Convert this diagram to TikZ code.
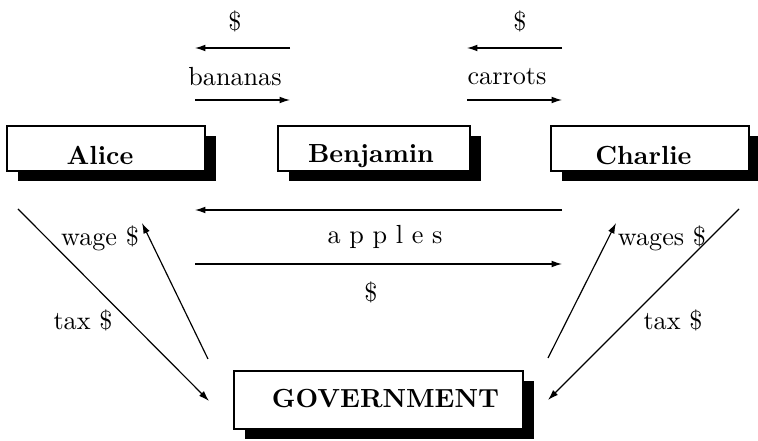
\documentclass[tikz,border=0pt]{standalone}
\usetikzlibrary{arrows.meta,shadows}

% one drawing unit = 0.382pt, y grows downwards
\newcommand{\unitlen}{0.382pt}

\tikzset{
  agent/.style={draw=black, line width=0.45pt, fill=white, inner sep=0pt,
    minimum height={45*\unitlen},
    drop shadow={shadow xshift={10.5*\unitlen}, shadow yshift={-10.5*\unitlen},
      fill=black, opacity=1}},
  name text/.style={font=\bfseries, inner sep=0pt, anchor=base},
  flow/.style={line width=0.45pt, -{Latex[length=4pt,width=2.6pt]}},
  tag/.style={inner sep=0pt}
}

\begin{document}
\begin{tikzpicture}[x=\unitlen, y=-\unitlen]
\useasboundingbox (0,0) rectangle (758,441);

% the four agents
\node[agent, minimum width={198*\unitlen}] (alice)    at (106,148.5) {};
\node[agent, minimum width={192*\unitlen}] (benjamin) at (374,148.5) {};
\node[agent, minimum width={198*\unitlen}] (charlie)  at (650,148.5) {};
\node[agent, minimum width={289*\unitlen}, minimum height={58*\unitlen}] (gov) at (378.5,400) {};

\node[name text] (alice-t)    at (100,165)   {Alice};
\node[name text] (benjamin-t) at (371,163)   {Benjamin};
\node[name text] (charlie-t)  at (643.5,165) {Charlie};
\node[name text] (gov-t)      at (385.5,408) {GOVERNMENT};

% end points of the trade flows
\coordinate (bl1) at (195,48);  \coordinate (br1) at (290,48);
\coordinate (bl2) at (195,100); \coordinate (br2) at (290,100);
\coordinate (cl1) at (467,48);  \coordinate (cr1) at (562,48);
\coordinate (cl2) at (467,100); \coordinate (cr2) at (562,100);
\coordinate (al1) at (195,210); \coordinate (ar1) at (562,210);
\coordinate (al2) at (195,264); \coordinate (ar2) at (562,264);

% Alice -- Benjamin
\draw[flow] (br1) -- (bl1);
\draw[flow] (bl2) -- (br2);
\node[tag] (bdollar)  at (235,21) {\$};
\node[tag] (bananas) at (235,77) {bananas};

% Benjamin -- Charlie
\draw[flow] (cr1) -- (cl1);
\draw[flow] (cl2) -- (cr2);
\node[tag] (cdollar) at (520,21) {\$};
\node[tag] (carrots) at (507,77) {carrots};

% Alice -- Charlie
\draw[flow] (ar1) -- (al1);
\draw[flow] (al2) -- (ar2);
\node[tag] (apples)  at (385,237) {a p p l e s};
\node[tag] (adollar) at (371,292) {\$};

% government flows
\coordinate (a-out) at (18,209);   \coordinate (g-in-l)  at (209,401);
\coordinate (g-out-l) at (208,359); \coordinate (a-in)  at (142,223);
\coordinate (c-out) at (739,209);  \coordinate (g-in-r)  at (548,400);
\coordinate (g-out-r) at (548,358); \coordinate (c-in)  at (616,223);

\draw[flow] (a-out) -- (g-in-l);
\draw[flow] (g-out-l) -- (a-in);
\draw[flow] (c-out) -- (g-in-r);
\draw[flow] (g-out-r) -- (c-in);

\node[tag] (wage)   at (100,238) {wage \$};
\node[tag] (taxl)   at (83,320)  {tax \$};
\node[tag] (wages)  at (662,238) {wages \$};
\node[tag] (taxr)   at (673,320) {tax \$};
\end{tikzpicture}
\end{document}
